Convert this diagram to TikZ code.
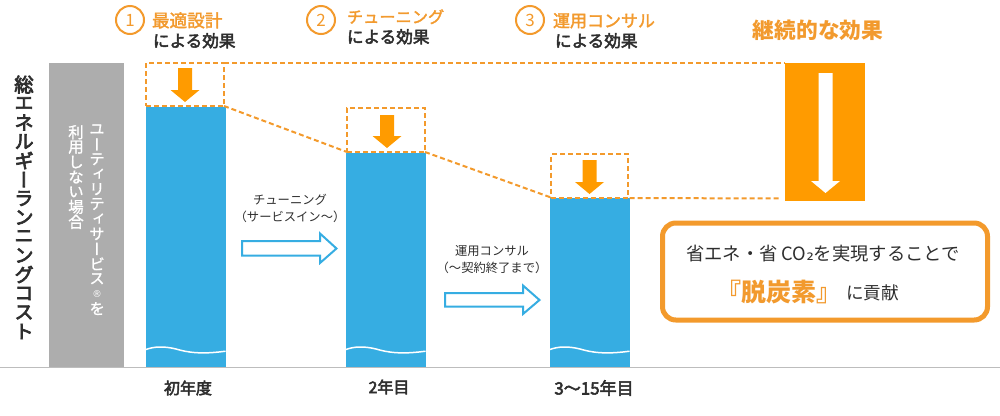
\documentclass[tikz,border=0pt]{standalone}
\usepackage{fontspec}
\setmainfont{Noto Sans CJK JP}
\newfontfamily\vfont[RawFeature=+vert]{Noto Sans CJK JP}
\newfontfamily\medfont[FakeBold=3]{Noto Sans CJK JP}
\newfontfamily\headfont[FakeBold=2]{Noto Sans CJK JP}
\newfontfamily\vmedfont[RawFeature=+vert,FakeBold=3.5]{Noto Sans CJK JP}
\newfontfamily\vlightfont[RawFeature=+vert,FakeBold=1.2]{Noto Sans CJK JP}
\newfontfamily\subsfont{DejaVu Sans}
\usetikzlibrary{calc}
\definecolor{barblue}{HTML}{36ADE2}
\definecolor{solidorange}{HTML}{FF9B00}
\definecolor{lineorange}{HTML}{F39A2C}
\definecolor{txtorange}{HTML}{F29A2E}
\definecolor{barsgray}{HTML}{ADADAD}
\definecolor{basegray}{HTML}{BDBDBD}
\definecolor{ink}{HTML}{2E2E2E}
\def\pxx{0.75pt}
\newcommand{\fsz}[1]{\pgfmathsetmacro\tmpfs{#1*0.75}\pgfmathsetmacro\tmpfl{#1*0.9}\fontsize{\tmpfs pt}{\tmpfl pt}\selectfont}
\makeatletter
\newcommand{\vtext}[3]{\vbox{\offinterlineskip\@tfor\vch:=#3\do{\vbox to #1{\vss\hbox to 1.2em{\hss#2\vch\hss}\vss}}}}
\makeatother
\tikzset{
  x=0.75pt,y=-0.75pt,
  every node/.style={inner sep=0pt,outer sep=0pt,text=ink},
  colblue/.style={fill=barblue,draw=none,anchor=north west},
  dashbox/.style={draw=lineorange,line width=2*\pxx,dash pattern=on 5*\pxx off 3*\pxx,anchor=north west},
  dashlink/.style={draw=lineorange,line width=2*\pxx,dash pattern=on 5*\pxx off 3*\pxx},
  numring/.style={circle,draw=lineorange,line width=2*\pxx,minimum size=28*\pxx,text=lineorange,font=\fsz{17}},
  headline/.style={anchor=base west,text=txtorange,font=\headfont\fsz{17.6}},
  headsub/.style={anchor=base west,font=\medfont\fsz{16.6}},
  caption/.style={font=\fsz{12.3},text=ink},
  yearlabel/.style={font=\medfont\fsz{16}},
  wave/.style={draw=white,line width=1.5*\pxx},
  bluearrow/.style={draw=barblue,fill=white,line width=2*\pxx,miter limit=6},
}
\newcommand{\wave}[1]{\draw[wave] (#1,349.5) .. controls (#1+8,346.5) and (#1+18,346) .. (#1+30,349) .. controls (#1+42,352.5) and (#1+55,354.5) .. (#1+79.5,351.2);}
\newcommand{\dnarrow}[5][solidorange]{\fill[#1] (#2-7,#3) -- (#2+7,#3) -- (#2+7,#4) -- (#2+14.5,#4) -- (#2,#5) -- (#2-14.5,#4) -- (#2-7,#4) -- cycle;}
\begin{document}
\begin{tikzpicture}
\useasboundingbox (0,0) rectangle (1000,415);
% baseline
\coordinate (baseL) at (0,367.5);
\coordinate (baseR) at (1000,367.5);
\draw[basegray,line width=1.6*\pxx] (baseL) -- (baseR);
% grey reference bar
\node[fill=barsgray,anchor=north west,minimum width=75*\pxx,minimum height=304*\pxx] (grey) at (49,63) {};
% blue bars
\node[colblue,minimum width=79.5*\pxx,minimum height=260*\pxx] (bar1) at (146,107) {};
\node[colblue,minimum width=79.5*\pxx,minimum height=214*\pxx] (bar2) at (346,153) {};
\node[colblue,minimum width=79.5*\pxx,minimum height=169*\pxx] (bar3) at (550,198) {};
\wave{146}\wave{346}\wave{550}
% dashed reduction boxes
\node[dashbox,minimum width=78*\pxx,minimum height=43.5*\pxx] (dash1) at (146,62.5) {};
\node[dashbox,minimum width=78*\pxx,minimum height=44*\pxx] (dash2) at (347,108) {};
\node[dashbox,minimum width=77*\pxx,minimum height=43.5*\pxx] (dash3) at (551,154) {};
% lasting effect block
\node[fill=solidorange,anchor=north west,minimum width=80*\pxx,minimum height=138.5*\pxx] (cont) at (785,62.5) {};
\coordinate (contEnd) at (781,198.5);
\draw[dashlink] (dash1.north east) -- (cont.north west);
\draw[dashlink] (dash1.south east) -- (dash2.south west);
\draw[dashlink] (dash2.south east) -- (dash3.south west);
\draw[dashlink] (bar3.north east) -- (contEnd);
% down arrows
\dnarrow{185}{68}{90}{102}
\dnarrow{387}{115}{136}{148}
\dnarrow{589.5}{160}{182}{194}
\dnarrow[white]{825.5}{73}{181}{193}
% header
\node[numring] (n1) at (130,20) {1};
\node[numring] (n2) at (321,20) {2};
\node[numring] (n3) at (530,20) {3};
\node[headline] (h1) at (152,27) {最適設計};
\node[headsub] (s1) at (153,47) {による効果};
\node[headline,font=\headfont\fsz{16.2}] (h2) at (347,23) {チューニング};
\node[headsub] (s2) at (347,43) {による効果};
\node[headline,font=\headfont\fsz{17}] (h3) at (553,27) {運用コンサル};
\node[headsub] (s3) at (555,47) {による効果};
\node[anchor=base,text=txtorange,font=\fsz{21.7}\bfseries] (h4) at (818,38) {継続的な効果};
% vertical texts
\node[font=\fsz{19.5}] (ytitle) at (24,208) {\vtext{14.25pt}{\vmedfont}{総エネルギーランニングコスト}};
\node[text=white,font=\fsz{15.5}] (g1) at (97,219) {\vtext{11.2pt}{\vlightfont}{ユーティリティサービス{\subsfont\fsz{9.5}®}を}};
\node[text=white,font=\fsz{15.5}] (g2) at (76,177) {\vtext{11.2pt}{\vlightfont}{利用しない場合}};
% blue process arrows
\draw[bluearrow] (242,241) -- (320,241) -- (320,233.5) -- (336.5,248.5) -- (320,263) -- (320,255.5) -- (242,255.5) -- cycle;
\draw[bluearrow] (445,293) -- (523,293) -- (523,285.5) -- (539.5,300) -- (523,314) -- (523,306.5) -- (445,306.5) -- cycle;
\node[caption] (c1a) at (290,200) {チューニング};
\node[caption] (c1b) at (290,217) {（サービスイン～）};
\node[caption] (c2a) at (492,251) {運用コンサル};
\node[caption] (c2b) at (492,268) {（～契約終了まで）};
% years
\node[yearlabel] (y1) at (188,388) {初年度};
\node[yearlabel] (y2) at (389,387) {2年目};
\node[yearlabel,font=\medfont\fsz{17}] (y3) at (594,388) {3～15年目};
% result panel
\node[draw=lineorange,fill=white,line width=5*\pxx,rounded corners=10pt,anchor=north west,minimum width=325*\pxx,minimum height=97*\pxx] (panel) at (662.5,223) {};
\node[font=\fsz{18.3}] (p1) at (823,254) {省エネ・省 CO{\subsfont ₂}を実現することで};
\node[anchor=base west,text=txtorange,font=\fsz{25}\bfseries] (p2) at (716,301) {『脱炭素』};
\node[anchor=base west,font=\fsz{17.6}] (p3) at (846,299) {に貢献};
\end{tikzpicture}
\end{document}
